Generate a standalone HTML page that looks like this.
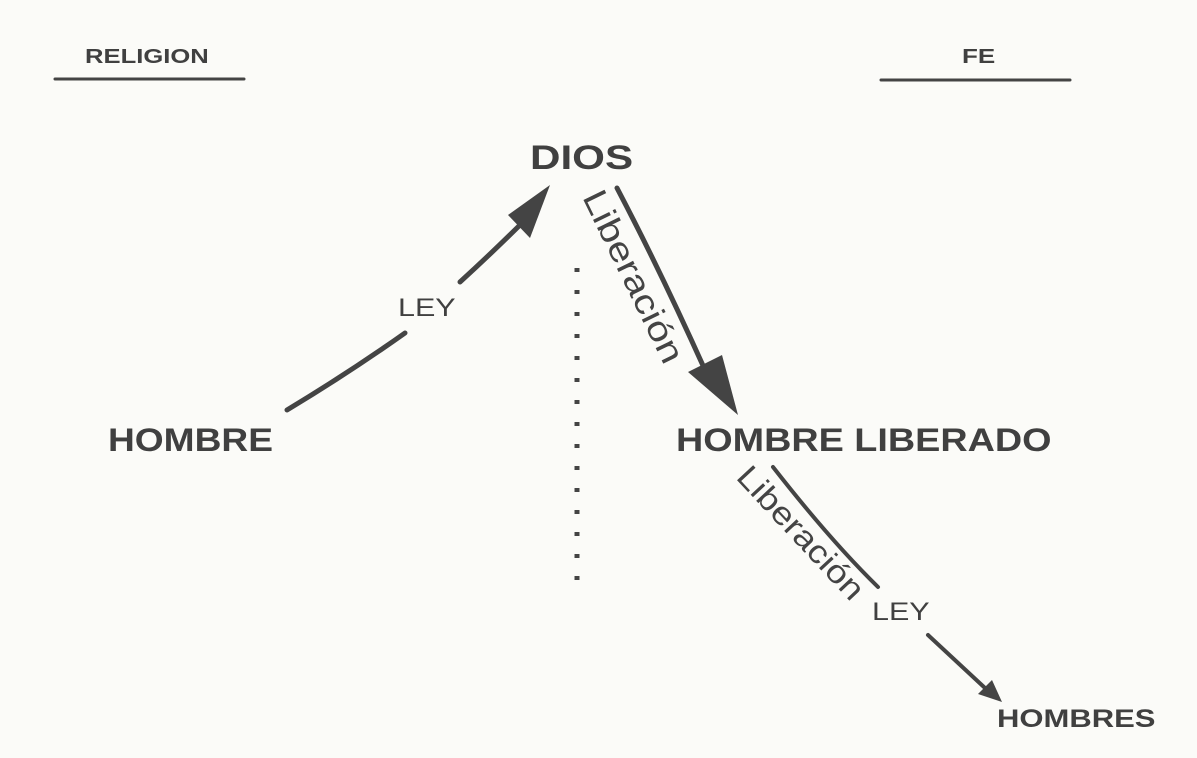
<!DOCTYPE html>
<html><head><meta charset="utf-8"><style>
html,body{margin:0;padding:0;}
body{width:1197px;height:758px;background:#fbfbf8;position:relative;overflow:hidden;font-family:"Liberation Sans",sans-serif;color:#404040;}
.t{position:absolute;font-weight:bold;white-space:nowrap;line-height:1;transform-origin:0 0;}
</style></head><body>
<svg width="1197" height="758" style="position:absolute;left:0;top:0">
<g stroke="#444" fill="none" stroke-linecap="round">
<line x1="55" y1="79" x2="244" y2="79" stroke-width="3"/>
<line x1="881" y1="80" x2="1070" y2="80" stroke-width="3"/>
<path d="M287 410 Q350 372 405 333" stroke-width="5"/>
<path d="M460 282 Q495 250 525 220" stroke-width="5"/>
<path d="M617 188 Q660 270 705 370" stroke-width="5"/>
<path d="M773 467 Q830 540 878 587" stroke-width="4"/>
<path d="M928 635 L985 688" stroke-width="4"/>
<line x1="577" y1="268" x2="577" y2="582" stroke-width="5" stroke-dasharray="4 18" stroke-linecap="butt"/>
</g>
<g fill="#444">
<polygon points="550,185 508,215 530,238"/>
<polygon points="738,415 688,372 722,355"/>
<polygon points="1002,702 978,694 992,680"/>
</g>
<text x="0" y="0" transform="translate(582,197) rotate(64)" font-family="Liberation Sans, sans-serif" font-size="34" fill="#444" textLength="188" lengthAdjust="spacingAndGlyphs">Liberación</text>
<text x="0" y="0" transform="translate(735,478) rotate(47)" font-family="Liberation Sans, sans-serif" font-size="32" fill="#444" textLength="170" lengthAdjust="spacingAndGlyphs">Liberación</text>
</svg>
<div class="t" style="left:85px;top:47px;font-size:20px;transform:scaleX(1.28)">RELIGION</div>
<div class="t" style="left:962px;top:47px;font-size:20px;transform:scaleX(1.3)">FE</div>
<div class="t" style="left:530px;top:141px;font-size:34px;transform:scaleX(1.24)">DIOS</div>
<div class="t" style="left:108px;top:424px;font-size:32px;transform:scaleX(1.16)">HOMBRE</div>
<div class="t" style="left:676px;top:424px;font-size:32px;transform:scaleX(1.18)">HOMBRE LIBERADO</div>
<div class="t" style="left:997px;top:707px;font-size:25px;transform:scaleX(1.24)">HOMBRES</div>
<div class="t" style="left:398px;top:296px;font-size:25px;font-weight:normal;transform:scaleX(1.22)">LEY</div>
<div class="t" style="left:872px;top:600px;font-size:25px;font-weight:normal;transform:scaleX(1.22)">LEY</div>
</body></html>
